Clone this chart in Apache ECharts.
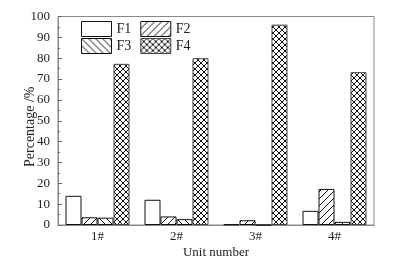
<!DOCTYPE html>
<html><head><meta charset="utf-8">
<script src="https://cdn.jsdelivr.net/npm/echarts@6/dist/echarts.min.js"></script>
<style>html,body{margin:0;padding:0;background:#fff}#c{width:398px;height:264px}</style>
</head><body><div id="c"></div>
<script>
var categories = ['1#', '2#', '3#', '4#'];
var seriesNames = ['F1', 'F2', 'F3', 'F4'];
var F1 = [14.0, 12.1, 0.3, 6.8];
var F2 = [3.7, 4.1, 2.3, 17.3];
var F3 = [3.5, 2.8, 0, 1.5];
var F4 = [77.3, 80.0, 96.1, 73.3];
var yTicks = [0, 10, 20, 30, 40, 50, 60, 70, 80, 90, 100];

function makePattern(kind) {
  var s = kind === 'x' ? 6 : 7;
  var c = document.createElement('canvas');
  c.width = s; c.height = s;
  var g = c.getContext('2d');
  g.fillStyle = '#fff'; g.fillRect(0, 0, s, s);
  g.strokeStyle = '#111'; g.lineWidth = 1;
  function fwd() { // "/"
    g.beginPath();
    for (var k = -1; k <= 1; k++) { g.moveTo(k * s - 1, s + 1); g.lineTo(k * s + s + 1, -1); }
    g.stroke();
  }
  function back() { // "\"
    g.beginPath();
    for (var k = -1; k <= 1; k++) { g.moveTo(k * s - 1, -1); g.lineTo(k * s + s + 1, s + 1); }
    g.stroke();
  }
  if (kind === '/') fwd();
  if (kind === '\\') back();
  if (kind === 'x') { fwd(); back(); }
  return { image: c, repeat: 'repeat' };
}

var fills = ['#ffffff', makePattern('/'), makePattern('\\'), makePattern('x')];
var datasets = [F1, F2, F3, F4];
var font = '"Liberation Serif", "Times New Roman", serif';

var series = seriesNames.map(function (n, i) {
  return {
    name: n, type: 'bar', data: datasets[i],
    barGap: '0%', barCategoryGap: '19%',
    itemStyle: { color: fills[i], borderColor: i === 3 ? '#444' : '#111', borderWidth: 1 },
    emphasis: { disabled: true }
  };
});

var legendBase = {
  left: 81, itemWidth: 30, itemHeight: 15, itemGap: 9, orient: 'horizontal', padding: 0,
  icon: 'rect', selectedMode: false,
  itemStyle: { borderWidth: 1 },
  textStyle: { fontFamily: font, fontSize: 14, color: '#222' }
};

var chart = echarts.init(document.getElementById('c'), null, { renderer: 'canvas' });
chart.setOption({
  animation: false,
  backgroundColor: '#fff',
  grid: { left: 58, right: 24, top: 16.5, bottom: 38.5, show: true, borderColor: '#888', borderWidth: 1, backgroundColor: 'transparent' },
  legend: [
    Object.assign({}, legendBase, { data: ['F1', 'F2'], top: 21 }),
    Object.assign({}, legendBase, { data: ['F3', 'F4'], top: 38 })
  ],
  xAxis: {
    type: 'category', data: categories,
    name: 'Unit number', nameLocation: 'middle', nameGap: 21, nameMoveOverlap: false,
    nameTextStyle: { fontFamily: font, fontSize: 13, color: '#222' },
    axisLine: { lineStyle: { color: '#888' } },
    axisTick: { show: false },
    axisLabel: { fontFamily: font, fontSize: 13, color: '#222', margin: 5 }
  },
  yAxis: {
    type: 'value', min: 0, max: 100, interval: 10,
    name: 'Percentage /%', nameLocation: 'middle', nameGap: 21, nameMoveOverlap: false,
    nameTextStyle: { fontFamily: font, fontSize: 14, color: '#222', padding: [0, 12, 0, 0] },
    axisLine: { show: true, lineStyle: { color: '#888' } },
    axisTick: { show: true, inside: true, length: 4, lineStyle: { color: '#666' } },
    minorTick: { show: true, splitNumber: 2, length: 2, lineStyle: { color: '#666' } },
    splitLine: { show: false },
    axisLabel: {
      fontFamily: font, fontSize: 13, color: '#222', margin: 8,
      formatter: function (v) { return yTicks.indexOf(v) >= 0 ? String(v) : ''; }
    }
  },
  series: series
});
</script></body></html>
